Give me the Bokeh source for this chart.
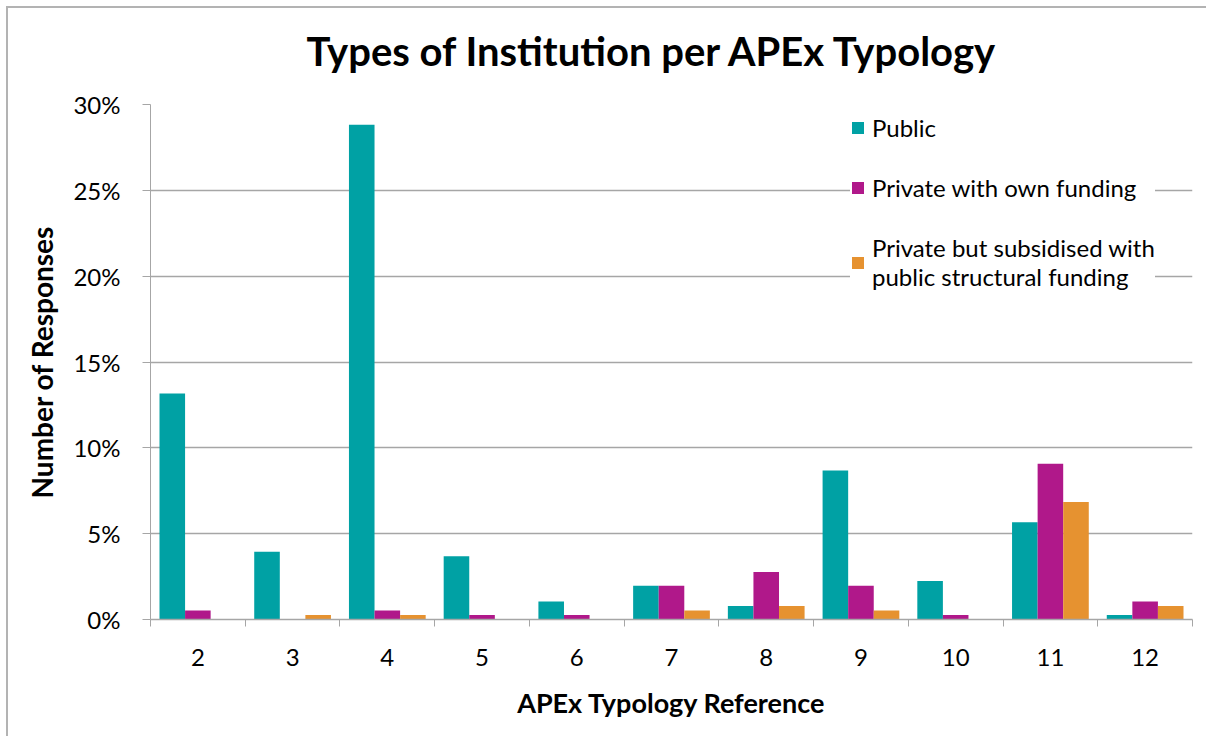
from bokeh.plotting import figure
from bokeh.models import (ColumnDataSource, Range1d, FixedTicker, NumeralTickFormatter,
                          Legend, LegendItem, Title)
from bokeh.transform import dodge
from bokeh.embed import file_html
from bokeh.resources import INLINE

# ---- data ----
categories = [2, 3, 4, 5, 6, 7, 8, 9, 10, 11, 12]
public = [0.1316, 0.0395, 0.2882, 0.0368, 0.0105, 0.0197, 0.0079, 0.0868, 0.0224, 0.0566, 0.0026]
private_own = [0.0053, 0.0, 0.0053, 0.0026, 0.0026, 0.0197, 0.0276, 0.0197, 0.0026, 0.0908, 0.0105]
private_subsidised = [0.0, 0.0026, 0.0026, 0.0, 0.0, 0.0053, 0.0079, 0.0053, 0.0, 0.0684, 0.0079]
series_names = ["Public", "Private with own funding",
                "Private but subsidised with\npublic structural funding"]
y_ticks = [0.0, 0.05, 0.10, 0.15, 0.20, 0.25, 0.30]

colors = ["#00A1A4", "#B0188A", "#E69230"]
FONT = "Lato"
GRID = "#A6A6A6"

source = ColumnDataSource(dict(cat=categories, public=public, own=private_own, sub=private_subsidised))

p = figure(width=1200, height=730, output_backend="svg", toolbar_location=None,
           x_range=Range1d(min(categories) - 0.5, max(categories) + 0.5),
           y_range=Range1d(0, 0.30),
           min_border_left=142, min_border_right=16, min_border_top=96, min_border_bottom=119)
p.styles = {"border-left": "2px solid #B3B3B3", "border-top": "2px solid #B3B3B3",
            "margin-left": "6px", "margin-top": "6px"}

bw = 0.27
r1 = p.vbar(x=dodge("cat", -bw, range=p.x_range), top="public", width=bw, source=source,
            fill_color=colors[0], line_color=None)
r2 = p.vbar(x=dodge("cat", 0.0, range=p.x_range), top="own", width=bw, source=source,
            fill_color=colors[1], line_color=None)
r3 = p.vbar(x=dodge("cat", bw, range=p.x_range), top="sub", width=bw, source=source,
            fill_color=colors[2], line_color=None)

# title
p.title.text = "Types of Institution per APEx Typology"
p.title.text_font = FONT
p.title.text_font_size = "40px"
p.title.text_font_style = "bold"
p.title.align = "left"
p.title.offset = 156
p.title.standoff = 10
p.title.text_color = "black"
# small spacer panel between the title and the frame
p.add_layout(Title(text=" ", text_font_size="1px", standoff=22), "above")

# outline / background
p.outline_line_color = None
p.background_fill_color = "white"
p.border_fill_color = "white"

# x axis
xa = p.xaxis[0]
xa.ticker = FixedTicker(ticks=categories, minor_ticks=[c - 0.5 for c in categories] + [max(categories) + 0.5])
xa.major_tick_out = 0
xa.major_tick_in = 0
xa.minor_tick_out = 7
xa.minor_tick_in = 0
xa.minor_tick_line_color = GRID
xa.axis_line_color = GRID
xa.axis_line_width = 1.5
xa.major_label_text_font = FONT
xa.major_label_text_font_size = "24px"
xa.major_label_text_color = "black"
xa.major_label_standoff = 22
xa.axis_label = "APEx Typology Reference"
xa.axis_label_text_font = FONT
xa.axis_label_text_font_size = "27px"
xa.axis_label_text_font_style = "bold"
xa.axis_label_text_color = "black"
xa.axis_label_standoff = 17

# y axis
ya = p.yaxis[0]
ya.ticker = FixedTicker(ticks=y_ticks)
ya.formatter = NumeralTickFormatter(format="0%")
ya.major_tick_out = 8
ya.major_tick_in = 0
ya.minor_tick_out = 0
ya.minor_tick_in = 0
ya.major_tick_line_color = GRID
ya.axis_line_color = GRID
ya.major_label_text_font = FONT
ya.major_label_text_font_size = "24px"
ya.major_label_text_color = "black"
ya.major_label_standoff = 22
ya.axis_label = "Number of Responses"
ya.axis_label_text_font = FONT
ya.axis_label_text_font_size = "28px"
ya.axis_label_text_font_style = "bold"
ya.axis_label_text_color = "black"
ya.axis_label_standoff = 11

p.xgrid.grid_line_color = None
p.ygrid.grid_line_color = GRID
p.ygrid.grid_line_width = 1.5
p.ygrid.ticker = FixedTicker(ticks=y_ticks)

legend = Legend(items=[LegendItem(label=series_names[0], renderers=[r1]),
                       LegendItem(label=series_names[1], renderers=[r2]),
                       LegendItem(label=series_names[2], renderers=[r3])],
                location=(700, 328))
legend.label_text_font = FONT
legend.label_text_font_size = "24px"
legend.label_text_line_height = 1.4
legend.label_text_color = "black"
legend.glyph_width = 15
legend.glyph_height = 15
legend.label_standoff = 7
legend.spacing = 31
legend.padding = 28
legend.margin = 0
legend.border_line_color = None
legend.background_fill_color = "white"
legend.background_fill_alpha = 1.0
p.add_layout(legend)

open("out.html", "w").write(file_html(p, INLINE))
